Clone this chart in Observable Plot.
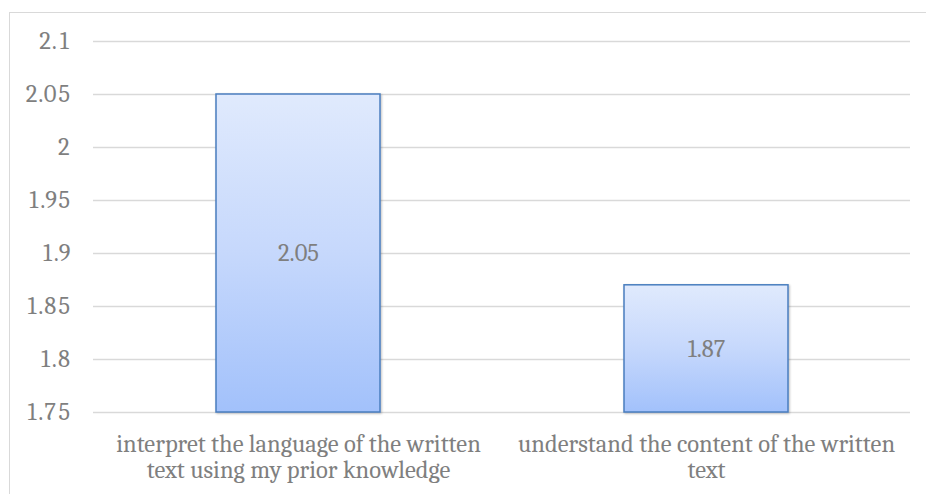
<!DOCTYPE html>
<html>
<head>
<meta charset="utf-8">
<script src="https://cdn.jsdelivr.net/npm/d3@7"></script>
<script src="https://cdn.jsdelivr.net/npm/@observablehq/plot@0.6"></script>
<style>
  html, body { margin: 0; padding: 0; background: #fff; }
  #wrap { position: relative; width: 926px; height: 494px; overflow: hidden; }
  #frame { position: absolute; left: 9px; top: 12px; width: 940px; height: 520px; border: 1.5px solid #d9d9d9; box-sizing: border-box; pointer-events: none; }
  #chart { position: absolute; left: 0; top: 0; }
</style>
</head>
<body>
<div id="wrap"><div id="chart"></div><div id="frame"></div></div>
<script>
const categories = [
  "interpret the language of the written text using my prior knowledge",
  "understand the content of the written text"
];
const values = [2.05, 1.87];
const yTicks = [1.75, 1.8, 1.85, 1.9, 1.95, 2, 2.05, 2.1];
const yTickLabels = ["1.75", "1.8", "1.85", "1.9", "1.95", "2", "2.05", "2.1"];

const data = categories.map((c, i) => ({category: c, value: values[i]}));

function wrap(s, max) {
  const words = s.split(" ");
  const lines = [];
  let cur = "";
  for (const w of words) {
    const t = cur ? cur + " " + w : w;
    if (t.length > max && cur) { lines.push(cur); cur = w; } else cur = t;
  }
  if (cur) lines.push(cur);
  return lines.join("\n");
}

const font = "Cambria, 'DejaVu Serif', serif";
const gray = "#7f7f7f";
const fs = 24.5;

const defs = () => {
  const d = d3.create("svg:defs");
  const g = d.append("linearGradient").attr("id", "barGrad")
    .attr("x1", 0).attr("y1", 0).attr("x2", 0).attr("y2", 1);
  g.append("stop").attr("offset", "0%").attr("stop-color", "#e0eafd");
  g.append("stop").attr("offset", "50%").attr("stop-color", "#c6d8fc");
  g.append("stop").attr("offset", "100%").attr("stop-color", "#a2c1fb");
  const f = d.append("filter").attr("id", "shadow").attr("x", "-10%").attr("y", "-10%").attr("width", "120%").attr("height", "120%");
  f.append("feDropShadow").attr("dx", 1).attr("dy", 1).attr("stdDeviation", 1.2).attr("flood-color", "#000").attr("flood-opacity", 0.25);
  return d.node();
};

const plot = Plot.plot({
  width: 926,
  height: 494,
  marginLeft: 93,
  marginRight: 16,
  marginTop: 41,
  marginBottom: 82,
  style: { fontFamily: font, fontSize: fs + "px", background: "transparent", overflow: "visible" },
  x: { domain: categories, padding: 0, label: null },
  y: { domain: [1.75, 2.1], label: null },
  marks: [
    defs,
    Plot.gridY(yTicks, { stroke: "#d9d9d9", strokeOpacity: 1, strokeWidth: 1.5 }),
    Plot.barY(data, {
      x: "category", y1: 1.75, y2: "value",
      fill: "url(#barGrad)", stroke: "#4a7ebf", strokeWidth: 1.5,
      insetLeft: 122, insetRight: 122
    }),
    Plot.text(data, {
      x: "category",
      y: d => (1.75 + d.value) / 2,
      text: d => d.value.toFixed(2),
      fill: gray, fontSize: fs, fontFamily: font
    }),
    Plot.axisY({
      ticks: yTicks,
      tickFormat: (d, i) => yTickLabels[i],
      tickSize: 0, tickPadding: 23,
      fontSize: fs, fill: gray
    }),
    Plot.axisX({
      tickSize: 0, tickPadding: 21,
      tickFormat: d => wrap(d, 37),
      lineWidth: Infinity,
      lineHeight: 1.07,
      fontSize: fs, fill: gray
    })
  ]
});
d3.select(plot).selectAll("g[aria-label='bar'] rect").attr("filter", "url(#shadow)");
document.getElementById("chart").appendChild(plot);
</script>
</body>
</html>
